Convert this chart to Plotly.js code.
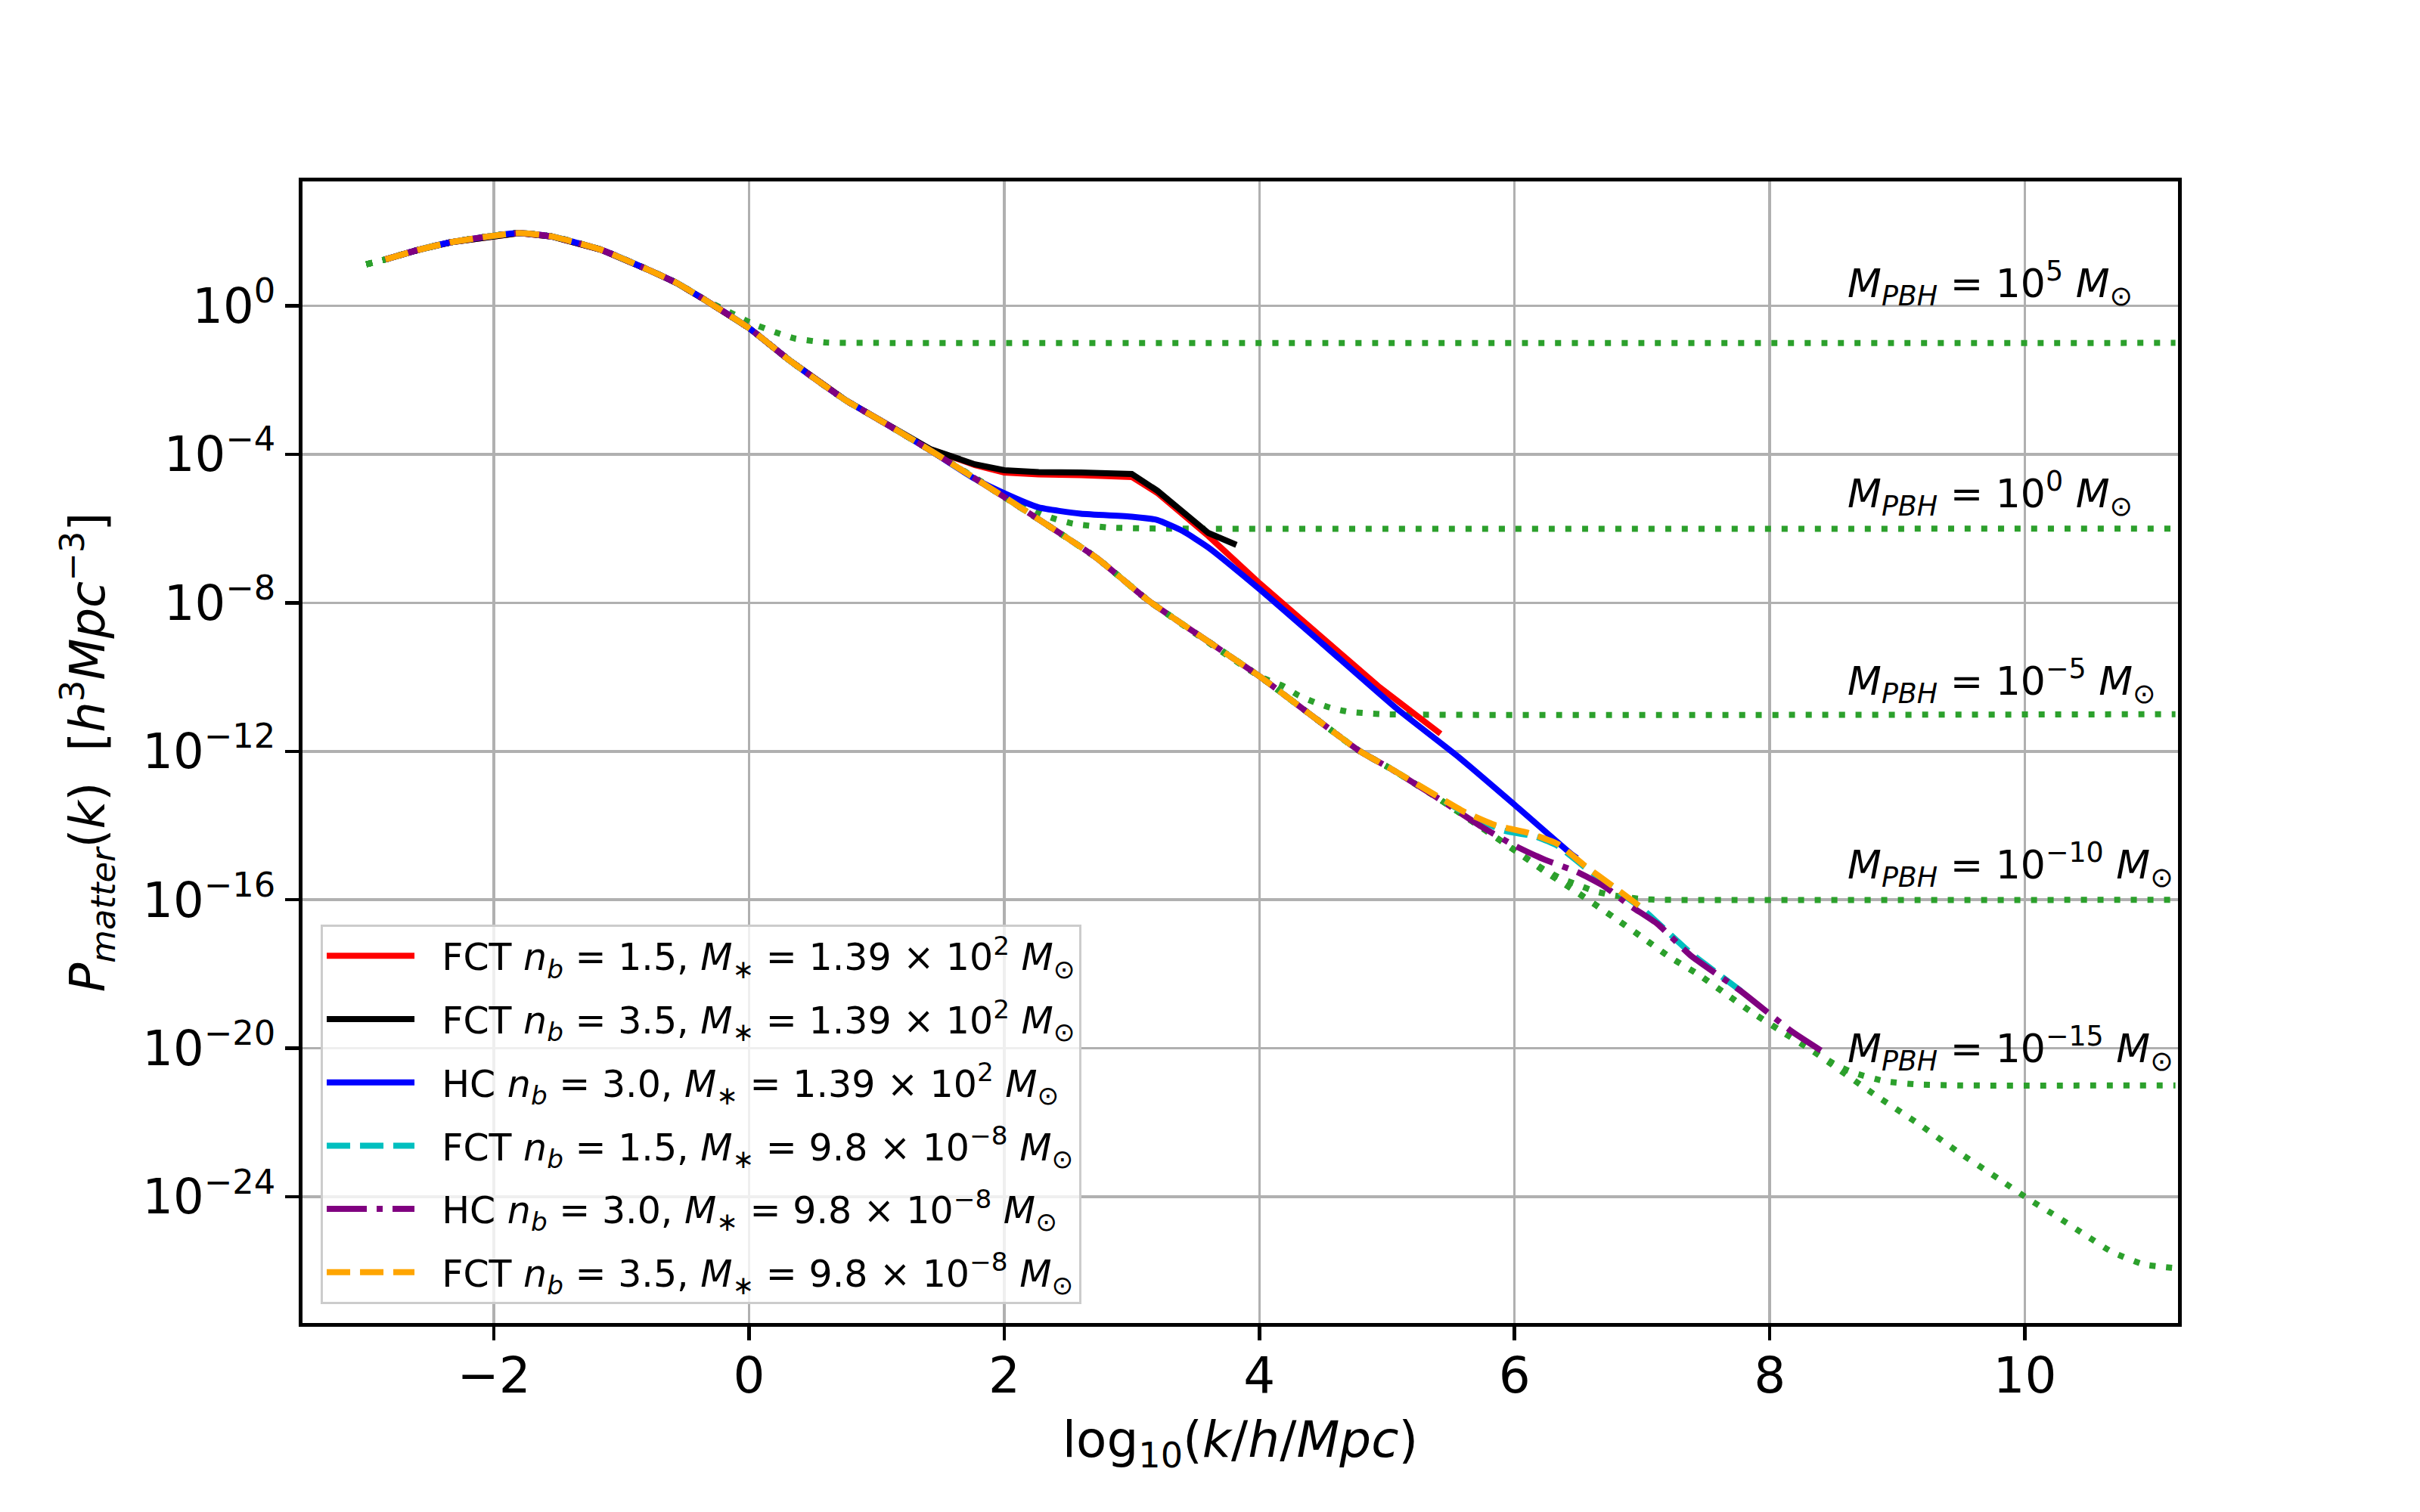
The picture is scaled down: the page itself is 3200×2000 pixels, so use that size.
<!DOCTYPE html>
<html>
<head>
<meta charset="utf-8">
<script src="https://cdn.plot.ly/plotly-3.0.1.min.js"></script>
<style>
body { margin: 0; background: #fff; }
#myPlot { width: 3200px; height: 2000px; }
</style>
</head>
<body>
<div id="myPlot"></div>
<script>
// all values are log10(k) on x and log10(P) on y
var headX = [-2.85, -2.6, -2.34, -2.0, -1.8, -1.55, -1.16, -0.77, -0.57, -0.37, 0.0, 0.31, 0.51, 0.76, 1.0];
var headY = [1.25, 1.50, 1.71, 1.89, 1.96, 1.87, 1.51, 0.94, 0.62, 0.21, -0.60, -1.45, -1.95, -2.55, -3.03];
var midX = [1.4, 2.0, 2.72, 3.13, 4.0, 4.78, 5.03];
var midY = [-3.85, -5.15, -6.78, -7.94, -9.98, -11.98, -12.47];

// FCT n_b=1.5, M*=1.39e2
var redX = [1.42, 1.60, 1.77, 2.0, 2.27, 2.6, 3.0, 3.2, 3.4, 3.6, 4.0, 4.49, 4.93, 5.42];
var redY = [-3.87, -4.08, -4.29, -4.49, -4.54, -4.56, -4.61, -5.04, -5.62, -6.2, -7.47, -8.93, -10.24, -11.53];
// FCT n_b=3.5, M*=1.39e2
var blackX = [1.42, 1.60, 1.77, 2.0, 2.27, 2.6, 3.0, 3.2, 3.4, 3.6, 3.82];
var blackY = [-3.86, -4.07, -4.27, -4.43, -4.48, -4.49, -4.53, -4.98, -5.56, -6.12, -6.44];
// HC n_b=3.0, M*=1.39e2
var blueX = [1.4, 1.77, 2.0, 2.27, 2.6, 3.0, 3.2, 3.4, 3.6, 4.0, 4.49, 5.08, 5.57, 6.0, 6.46, 6.49];
var blueY = [-3.85, -4.66, -5.05, -5.43, -5.60, -5.68, -5.77, -6.07, -6.51, -7.63, -9.09, -10.86, -12.18, -13.44, -14.81, -14.88];
// FCT n_b=1.5, M*=9.8e-8
var cyanX = [5.38, 5.60, 5.91, 6.17, 6.34, 6.55, 6.77, 7.0, 7.38, 7.80];
var cyanY = [-13.19, -13.64, -14.13, -14.30, -14.55, -15.12, -15.67, -16.24, -17.43, -18.52];
// HC n_b=3.0, M*=9.8e-8
var purpleX = [5.38, 5.74, 6.0, 6.23, 6.49, 6.70, 6.91, 7.12, 7.38, 7.77, 8.17, 8.42];
var purpleY = [-13.22, -14.03, -14.54, -14.91, -15.25, -15.63, -16.17, -16.65, -17.50, -18.45, -19.54, -20.1];
// FCT n_b=3.5, M*=9.8e-8
var orangeX = [5.38, 5.60, 5.85, 6.11, 6.34, 6.55, 6.77, 6.98];
var orangeY = [-13.18, -13.62, -13.99, -14.20, -14.50, -15.08, -15.63, -16.17];

// green dotted PBH curves
var g5X = [-3.0, -2.85, -2.6, -2.34, -2.0, -1.8, -1.55, -1.16, -0.77, -0.57, -0.37, -0.13, 0.02, 0.22, 0.36, 0.61, 1.0, 11.18];
var g5Y = [1.12, 1.25, 1.50, 1.71, 1.89, 1.96, 1.87, 1.51, 0.94, 0.62, 0.21, -0.21, -0.47, -0.73, -0.88, -0.99, -1.0, -1.0];
var g0X = [1.4, 2.0, 2.29, 2.39, 2.54, 2.81, 3.19, 11.18];
var g0Y = [-3.85, -5.10, -5.6, -5.73, -5.87, -5.97, -6.0, -6.0];
var gm5X = [4.19, 4.31, 4.44, 4.56, 4.69, 4.96, 11.18];
var gm5Y = [-10.25, -10.5, -10.69, -10.83, -10.93, -11.0, -11.0];
var lcdmX = [5.38, 5.70, 6.02, 6.23, 6.46, 6.78, 7.0, 7.21, 7.44, 7.65, 7.86, 8.09, 8.31, 8.52, 8.84, 9.16, 9.48, 9.80, 10.01, 10.24, 10.46, 10.68, 10.93, 11.18];
var lcdmY = [-13.22, -13.96, -14.71, -15.22, -15.73, -16.48, -17.01, -17.53, -18.01, -18.52, -19.03, -19.54, -20.01, -20.52, -21.29, -22.02, -22.8, -23.53, -24.02, -24.51, -25.0, -25.48, -25.82, -25.92];
var gm10X = [6.23, 6.36, 6.49, 6.62, 6.74, 6.87, 7.0, 7.13, 11.18];
var gm10Y = [-15.18, -15.42, -15.59, -15.76, -15.86, -15.93, -15.98, -16.0, -16.0];
var gm15X = [8.52, 8.65, 8.89, 9.14, 9.48, 11.18];
var gm15Y = [-20.45, -20.65, -20.88, -20.97, -21.0, -21.0];

var pbhExp = ['5', '0', '−5', '−10', '−15'];
var pbhLabelX = 8.6;
var pbhLabelY = [-0.22, -5.87, -10.92, -15.87, -20.82];

var yTickExp = [0, -4, -8, -12, -16, -20, -24];
var xTicks = [-2, 0, 2, 4, 6, 8, 10];

var legendNames = [
    'FCT <i>n</i><sub><i>b</i></sub> = 1.5, <i>M</i><sub>∗</sub> = 1.39 × 10<sup>2</sup> <i>M</i><sub>⊙</sub>',
    'FCT <i>n</i><sub><i>b</i></sub> = 3.5, <i>M</i><sub>∗</sub> = 1.39 × 10<sup>2</sup> <i>M</i><sub>⊙</sub>',
    'HC <i>n</i><sub><i>b</i></sub> = 3.0, <i>M</i><sub>∗</sub> = 1.39 × 10<sup>2</sup> <i>M</i><sub>⊙</sub>',
    'FCT <i>n</i><sub><i>b</i></sub> = 1.5, <i>M</i><sub>∗</sub> = 9.8 × 10<sup>−8</sup> <i>M</i><sub>⊙</sub>',
    'HC <i>n</i><sub><i>b</i></sub> = 3.0, <i>M</i><sub>∗</sub> = 9.8 × 10<sup>−8</sup> <i>M</i><sub>⊙</sub>',
    'FCT <i>n</i><sub><i>b</i></sub> = 3.5, <i>M</i><sub>∗</sub> = 9.8 × 10<sup>−8</sup> <i>M</i><sub>⊙</sub>'
];

function pow10(arr) {
    return arr.map(function (v) { return Math.pow(10, v); });
}

var font = 'DejaVu Sans, Arial, sans-serif';
var LW = 8;
var DOT = '8px,14px';

function green(x, y) {
    return {
        x: x, y: pow10(y), type: 'scatter', mode: 'lines',
        line: { color: '#2ca02c', width: LW, dash: DOT, shape: 'spline', smoothing: 0.5 },
        showlegend: false, hoverinfo: 'skip'
    };
}

function curve(i, x, y, color, dash, shape) {
    return {
        x: x, y: pow10(y), type: 'scatter', mode: 'lines',
        // a little gap between the legend sample and its text
        name: '\u00a0\u00a0' + legendNames[i],
        legendgroup: 'g' + i,
        line: { color: color, width: LW, dash: dash, shape: shape, smoothing: 0.5 }
    };
}

var gHeadX = [-3.0].concat(headX);
var gHeadY = [1.12].concat(headY);

var data = [
    green(g5X, g5Y),
    green(gHeadX.concat(g0X), gHeadY.concat(g0Y)),
    green(gHeadX.concat(midX.slice(0, 5), gm5X), gHeadY.concat(midY.slice(0, 5), gm5Y)),
    green(gHeadX.concat(midX, lcdmX.slice(0, 3), gm10X), gHeadY.concat(midY, lcdmY.slice(0, 3), gm10Y)),
    green(gHeadX.concat(midX, lcdmX.slice(0, 13), gm15X), gHeadY.concat(midY, lcdmY.slice(0, 13), gm15Y)),
    green(gHeadX.concat(midX, lcdmX), gHeadY.concat(midY, lcdmY)),
    curve(0, headX.concat(redX), headY.concat(redY), '#ff0000', 'solid', 'linear'),
    curve(1, headX.concat(blackX), headY.concat(blackY), '#000000', 'solid', 'linear'),
    curve(2, headX.concat(blueX), headY.concat(blueY), '#0000ff', 'solid', 'spline'),
    curve(3, headX.concat(midX, cyanX), headY.concat(midY, cyanY), '#00bfbf', '31px,13px', 'spline'),
    curve(4, headX.concat(midX, purpleX), headY.concat(midY, purpleY), '#800080', '53px,13px,8px,13px', 'spline'),
    curve(5, headX.concat(midX, orangeX), headY.concat(midY, orangeY), '#ffa500', '31px,13px', 'spline')
];

var annotations = pbhExp.map(function (e, i) {
    return {
        x: pbhLabelX, y: pbhLabelY[i], xref: 'x', yref: 'y',
        xanchor: 'left', yanchor: 'bottom', showarrow: false,
        text: '<i>M</i><sub><i>PBH</i></sub> = 10<sup>' + e + '</sup> <i>M</i><sub>⊙</sub>',
        font: { family: font, size: 52, color: '#000' }
    };
});

var axisCommon = {
    showgrid: true, gridcolor: '#b0b0b0', gridwidth: 3.5,
    showline: true, linecolor: '#000', linewidth: 5, mirror: true,
    ticks: 'outside', ticklen: 18, tickwidth: 4.5, tickcolor: '#000',
    zeroline: false, automargin: false
};

var layout = {
    width: 3200, height: 2000,
    margin: { l: 400, r: 320, t: 240, b: 250 },
    paper_bgcolor: '#fff', plot_bgcolor: '#fff',
    font: { family: font, color: '#000' },
    xaxis: Object.assign({}, axisCommon, {
        range: [-3.5, 11.2],
        tickvals: xTicks,
        ticktext: xTicks.map(function (v) { return v < 0 ? '−' + (-v) : String(v); }),
        tickfont: { family: font, size: 66 },
        ticklabelstandoff: -10,
        title: { text: 'log<sub>10</sub>(<i>k</i>/<i>h</i>/<i>Mpc</i>)', font: { family: font, size: 66 }, standoff: 25 }
    }),
    yaxis: Object.assign({}, axisCommon, {
        type: 'log',
        range: [-27.4, 3.35],
        tickvals: yTickExp.map(function (e) { return Math.pow(10, e); }),
        ticktext: yTickExp.map(function (e) { return '10<sup>' + (e < 0 ? '−' + (-e) : e) + '</sup>'; }),
        tickfont: { family: font, size: 64 },
        title: {
            text: '<i>P</i><sub><i>matter</i></sub>(<i>k</i>)  [<i>h</i><sup>3</sup><i>Mpc</i><sup>−3</sup>]',
            font: { family: font, size: 64 }, standoff: 30
        }
    }),
    legend: {
        x: 0.0097, y: 0.0166, xanchor: 'left', yanchor: 'bottom',
        bgcolor: 'rgba(255,255,255,0.8)', bordercolor: '#cccccc', borderwidth: 3,
        font: { family: font, size: 49, color: '#000' },
        itemwidth: 116, tracegroupgap: 17, traceorder: 'grouped'
    },
    annotations: annotations,
    showlegend: true
};

Plotly.newPlot('myPlot', data, layout, { displayModeBar: false, staticPlot: true });
</script>
</body>
</html>
